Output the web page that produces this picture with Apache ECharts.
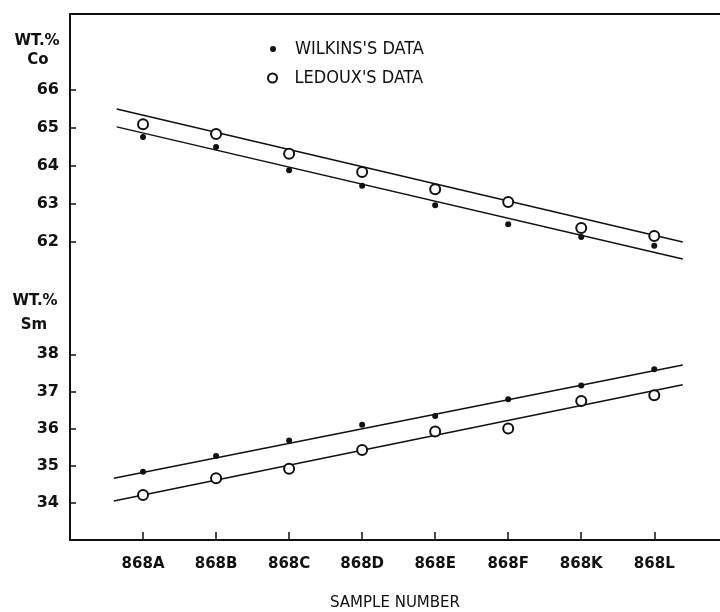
<!DOCTYPE html>
<html>
<head>
<meta charset="utf-8">
<script src="https://cdn.jsdelivr.net/npm/echarts@6.0.0/dist/echarts.min.js"></script>
<style>
html, body { margin: 0; padding: 0; background: #fff; }
#chart { width: 720px; height: 612px; }
</style>
</head>
<body>
<div id="chart"></div>
<script>
let samples = ['868A','868B','868C','868D','868E','868F','868K','868L']; // x축 시료 번호
let sampleIdx = [0,1,2,3,4,5,6,7];

// Co wt.% (top panel)
let coWilkins = [64.76,64.50,63.89,63.48,62.97,62.47,62.13,61.90];
let coLedoux  = [65.10,64.84,64.32,63.84,63.39,63.05,62.37,62.16];
let coWilkinsFit = [[-0.36,65.03],[7.39,61.55]];
let coLedouxFit  = [[-0.36,65.50],[7.39,62.00]];
let coTicks = [62,63,64,65,66];

// Sm wt.% (bottom panel)
let smWilkins = [34.84,35.26,35.68,36.10,36.34,36.79,37.16,37.60];
let smLedoux  = [34.21,34.66,34.92,35.42,35.92,36.00,36.74,36.90];
let smWilkinsFit = [[-0.40,34.66],[7.39,37.71]];
let smLedouxFit  = [[-0.40,34.05],[7.39,37.18]];
let smTicks = [34,35,36,37,38];

function pairs(vals) { // [index, value] 쌍 만들기
	return vals.map(function (v, i) { return [sampleIdx[i], v]; });
}

window.onload = function () {
	var myChart = echarts.init(document.getElementById('chart'));
	var ink = '#111';
	var font = 'DejaVu Sans';

	function yAxisFor(grid, min, max, ticks) {
		return {
			gridIndex: grid, type: 'value', min: min, max: max, interval: 1,
			axisLine: { show: true, onZero: false, lineStyle: { color: ink, width: 2 } },
			axisTick: { show: true, inside: true, length: 6, customValues: ticks, lineStyle: { color: ink, width: 1.5 } },
			axisLabel: { customValues: ticks, margin: 11, color: ink, fontSize: 16, fontWeight: 'bold', fontFamily: font },
			splitLine: { show: false }
		};
	}

	function fitLine(grid, data) {
		return {
			type: 'line', xAxisIndex: grid, yAxisIndex: grid, data: data,
			symbol: 'none', silent: true, lineStyle: { color: ink, width: 1.5 }
		};
	}

	function dots(grid, name, vals) {
		return {
			name: name, type: 'scatter', xAxisIndex: grid, yAxisIndex: grid, data: pairs(vals),
			symbol: 'circle', symbolSize: 6, itemStyle: { color: ink, opacity: 1 }, z: 3
		};
	}

	function rings(grid, name, vals) {
		return {
			name: name, type: 'scatter', xAxisIndex: grid, yAxisIndex: grid, data: pairs(vals),
			symbol: 'emptyCircle', symbolSize: 10, itemStyle: { color: ink, borderColor: ink, borderWidth: 2, opacity: 1 }, z: 4
		};
	}

	var legendText = { color: ink, fontSize: 18, fontFamily: 'DejaVu Sans Condensed, Liberation Sans Narrow, DejaVu Sans', lineHeight: 20 };

	option = {
		animation: false,
		backgroundColor: '#fff',
		grid: [
			{ left: 70, right: 0, top: 14, height: 266 },
			{ left: 70, right: 0, top: 280, height: 266 }
		],
		legend: [
			{ data: ["WILKINS'S DATA"], left: 270, top: 39, padding: 0, itemWidth: 34, itemHeight: 6, textStyle: legendText, selectedMode: false },
			{ data: ["LEDOUX'S DATA"], left: 267, top: 68, padding: 0, itemWidth: 34, itemHeight: 9, textStyle: legendText, selectedMode: false }
		],
		xAxis: [
			{
				gridIndex: 0, type: 'value', min: -1, max: 7.9, position: 'top',
				axisLine: { show: true, onZero: false, lineStyle: { color: ink, width: 2 } },
				axisTick: { show: false }, axisLabel: { show: false }, splitLine: { show: false }
			},
			{
				gridIndex: 1, type: 'value', min: -1, max: 7.9,
				name: 'SAMPLE NUMBER', nameLocation: 'middle', nameGap: 56,
				nameTextStyle: { color: ink, fontSize: 15, fontFamily: font },
				axisLine: { show: true, onZero: false, lineStyle: { color: ink, width: 2 } },
				axisTick: { show: true, inside: true, length: 8, customValues: sampleIdx, lineStyle: { color: ink, width: 1.5 } },
				axisLabel: {
					customValues: sampleIdx, margin: 17, color: ink, fontSize: 15, fontWeight: 'bold', fontFamily: font,
					formatter: function (v) { return samples[v]; }
				},
				splitLine: { show: false }
			}
		],
		yAxis: [
			yAxisFor(0, 61, 68, coTicks),
			yAxisFor(1, 33, 40, smTicks)
		],
		graphic: [
			{ type: 'text', style: { text: 'WT.%', x: 37, y: 41, align: 'center', verticalAlign: 'middle', fontSize: 15, fontWeight: 'bold', fontFamily: font, fill: ink } },
			{ type: 'text', style: { text: 'Co', x: 38, y: 60, align: 'center', verticalAlign: 'middle', fontSize: 15, fontWeight: 'bold', fontFamily: font, fill: ink } },
			{ type: 'text', style: { text: 'WT.%', x: 35, y: 301, align: 'center', verticalAlign: 'middle', fontSize: 15, fontWeight: 'bold', fontFamily: font, fill: ink } },
			{ type: 'text', style: { text: 'Sm', x: 34, y: 325, align: 'center', verticalAlign: 'middle', fontSize: 15, fontWeight: 'bold', fontFamily: font, fill: ink } }
		],
		series: [
			fitLine(0, coWilkinsFit),
			fitLine(0, coLedouxFit),
			dots(0, "WILKINS'S DATA", coWilkins),
			rings(0, "LEDOUX'S DATA", coLedoux),
			fitLine(1, smWilkinsFit),
			fitLine(1, smLedouxFit),
			dots(1, "WILKINS'S DATA", smWilkins),
			rings(1, "LEDOUX'S DATA", smLedoux)
		]
	};
	myChart.setOption(option); // 차트 디스플레이
};
</script>
</body>
</html>
